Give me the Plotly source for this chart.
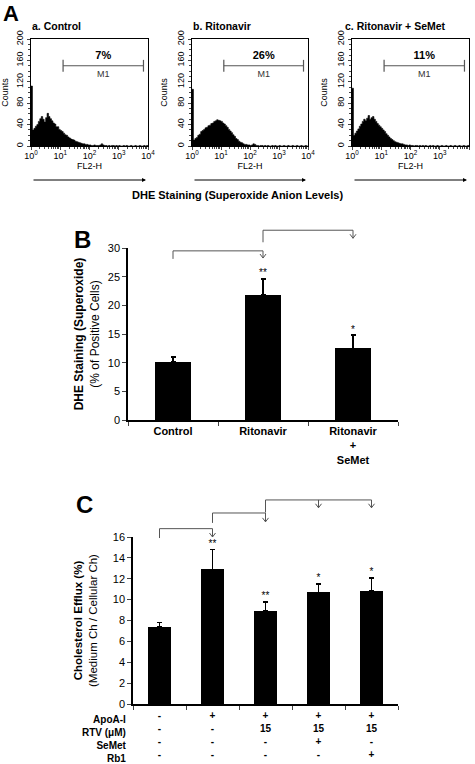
import numpy as np
import plotly.graph_objects as go

W, H = 475, 764
FONT = "Arial, Liberation Sans, sans-serif"
GRAY = "#555555"

# ---------------- Panel A data (flow cytometry histograms) ----------------
hist_titles = ["a. Control", "b. Ritonavir", "c. Ritonavir + SeMet"]
gate_pct = ["7%", "26%", "11%"]
decade_ticks = [1, 10, 100, 1000, 10000]
decade_text = ["10<sup>0</sup>", "10<sup>1</sup>", "10<sup>2</sup>", "10<sup>3</sup>", "10<sup>4</sup>"]
# counts per bin, bins of 0.05 decade from 10^0 to 10^4
control_counts = [112, 30, 33, 37, 40, 46, 51, 55, 50, 45,
                  53, 61, 55, 51, 47, 43, 41, 36, 36, 31,
                  29, 27, 24, 21, 20, 17, 15, 13, 12, 11,
                  9, 8, 7, 6, 5, 4, 4, 3, 3, 2,
                  2, 1, 1, 2, 1, 1, 1, 2, 4, 2,
                  1, 1, 0, 1, 0, 1, 1, 0, 1, 0,
                  1, 0, 0, 1, 0, 1, 0, 0, 1, 0,
                  0, 1, 0, 0, 1, 0, 0, 1, 0, 1]
ritonavir_counts = [106, 11, 14, 16, 20, 22, 27, 29, 31, 34,
                    35, 38, 39, 42, 43, 46, 47, 49, 48, 47,
                    46, 43, 41, 38, 35, 31, 28, 25, 21, 18,
                    14, 12, 9, 7, 6, 4, 3, 3, 2, 2,
                    1, 2, 4, 3, 1, 1, 0, 1, 1, 0,
                    1, 0, 1, 0, 0, 1, 0, 1, 0, 0,
                    1, 0, 0, 1, 0, 0, 1, 0, 0, 1,
                    0, 0, 1, 0, 0, 1, 0, 0, 1, 0]
semet_counts = [108, 20, 24, 28, 32, 37, 41, 46, 50, 47,
                52, 57, 50, 53, 55, 50, 46, 42, 39, 36,
                33, 30, 27, 23, 20, 17, 14, 12, 10, 8,
                7, 6, 5, 4, 4, 3, 2, 2, 1, 2,
                1, 1, 0, 1, 1, 0, 1, 0, 1, 0,
                1, 0, 0, 1, 0, 1, 0, 0, 1, 0,
                0, 1, 0, 0, 1, 0, 0, 1, 0, 0,
                1, 0, 0, 1, 0, 0, 1, 0, 0, 1]
m1_lo, m1_hi, m1_y = 12.5, 7000, 150

# ---------------- Panel B data ----------------
b_cats = ["Control", "Ritonavir", "Ritonavir<br>+<br>SeMet"]
b_means = [10.1, 21.8, 12.5]
b_errs = [0.9, 2.8, 2.3]
b_sig = ["", "**", "*"]

# ---------------- Panel C data ----------------
c_apoa = ["-", "+", "+", "+", "+"]
c_rtv = ["-", "-", "15", "15", "15"]
c_semet = ["-", "-", "-", "+", "-"]
c_rb1 = ["-", "-", "-", "-", "+"]
c_row_labels = ["ApoA-I", "RTV (\u03bcM)", "SeMet", "Rb1"]
c_means = [7.4, 12.9, 8.9, 10.7, 10.8]
c_errs = [0.4, 1.9, 0.9, 0.8, 1.3]
c_sig = ["", "**", "**", "*", "*"]


def px_x(p):
    return p / W


def px_y(p):
    return 1 - p / H


fig = go.Figure()

# ---------------- Panel A ----------------
edges = 10 ** np.linspace(0, 4, 81)
hist_px = [(31, 148), (192, 308), (352, 469)]
hist_counts = [control_counts, ritonavir_counts, semet_counts]
minor_vals = [m * 10 ** k for k in range(4) for m in range(2, 10)]
geo_center = np.sqrt(m1_lo * m1_hi)
for i, (counts, (x0, x1)) in enumerate(zip(hist_counts, hist_px)):
    n = i + 1
    xs = f"x{n}" if n > 1 else "x"
    ys = f"y{n}" if n > 1 else "y"
    fig.add_trace(go.Scatter(x=edges, y=list(counts) + [counts[-1]], mode="lines",
                             line=dict(shape="hv", color="black", width=0.6),
                             fill="tozeroy", fillcolor="black",
                             xaxis=xs, yaxis=ys, showlegend=False, hoverinfo="skip"))
    fig.add_trace(go.Scatter(x=[m1_lo, m1_hi, None, m1_lo, m1_lo, None, m1_hi, m1_hi],
                             y=[m1_y, m1_y, None, m1_y - 11, m1_y + 11, None, m1_y - 11, m1_y + 11],
                             mode="lines", line=dict(color=GRAY, width=1.2),
                             xaxis=xs, yaxis=ys, showlegend=False, hoverinfo="skip"))
    fig.add_trace(go.Scatter(x=[geo_center, geo_center], y=[m1_y + 17, m1_y - 16],
                             mode="text", text=[f"<b>{gate_pct[i]}</b>", "M1"],
                             textfont=dict(size=[11, 9], color=["black", "#333333"]),
                             xaxis=xs, yaxis=ys, showlegend=False, hoverinfo="skip",
                             cliponaxis=False))
    fig.layout[f"xaxis{n}" if n > 1 else "xaxis"] = dict(
        domain=[px_x(x0), px_x(x1)], anchor=ys, type="log", range=[0, 4],
        tickvals=decade_ticks, ticktext=decade_text, tickfont=dict(size=9),
        ticks="outside", ticklen=3, showline=True, mirror=True, linecolor="black",
        linewidth=1, showgrid=False, zeroline=False, ticklabelstandoff=-2, automargin=False,
        minor=dict(tickvals=minor_vals, ticks="outside", ticklen=2, showgrid=False),
        title=dict(text="FL2-H", font=dict(size=9), standoff=0))
    fig.layout[f"yaxis{n}" if n > 1 else "yaxis"] = dict(
        domain=[px_y(146), px_y(39)], anchor=xs, range=[0, 200], dtick=40,
        tickangle=-90, tickfont=dict(size=9), ticks="outside", ticklen=3,
        showline=True, mirror=True, linecolor="black", linewidth=1,
        showgrid=False, zeroline=False, automargin=False,
        minor=dict(dtick=10, ticks="outside", ticklen=2, showgrid=False),
        title=dict(text="Counts", font=dict(size=9), standoff=7))
    fig.add_annotation(xref="paper", yref="paper", x=px_x(x0 - 1 if i < 2 else 343),
                       y=px_y(26), text=f"<b>{hist_titles[i]}</b>", showarrow=False,
                       xanchor="left", yanchor="middle", font=dict(size=10.5))
    fig.add_annotation(xref="paper", yref="paper", x=px_x(x1 - 2), y=px_y(180),
                       ax=-(x1 - x0 - 3), ay=0, text="", showarrow=True,
                       arrowhead=2, arrowsize=0.8, arrowwidth=1, arrowcolor="black")

fig.add_annotation(xref="paper", yref="paper", x=px_x(1), y=px_y(13), text="<b>A</b>",
                   showarrow=False, xanchor="left", yanchor="middle", font=dict(size=22))
fig.add_annotation(xref="paper", yref="paper", x=px_x(237), y=px_y(195),
                   text="<b>DHE Staining (Superoxide Anion Levels)</b>", showarrow=False,
                   xanchor="center", yanchor="middle", font=dict(size=11))

# ---------------- Panel B ----------------
fig.add_trace(go.Bar(x=b_cats, y=b_means, width=0.41, marker=dict(color="black", line=dict(width=0)),
                     error_y=dict(type="data", array=b_errs, arrayminus=[0] * len(b_errs),
                                  symmetric=False, color="black", thickness=1.6, width=2.5),
                     xaxis="x4", yaxis="y4", showlegend=False))
fig.add_trace(go.Scatter(x=b_cats, y=[m + e for m, e in zip(b_means, b_errs)], mode="text",
                         text=b_sig, textposition="top center",
                         textfont=dict(size=10, color="black"),
                         xaxis="x4", yaxis="y4", showlegend=False, cliponaxis=False))
fig.layout.xaxis4 = dict(domain=[px_x(128), px_x(398)], anchor="y4", type="category",
                         tickson="boundaries", ticks="outside", ticklen=4,
                         showline=True, linecolor="black", linewidth=1.5, automargin=False,
                         tickfont=dict(size=11, weight="bold"), showgrid=False)
fig.layout.yaxis4 = dict(domain=[px_y(420), px_y(248)], anchor="x4", range=[0, 30], dtick=5,
                         ticks="outside", ticklen=4, showline=True, linecolor="black",
                         linewidth=1.5, tickfont=dict(size=11), showgrid=False, zeroline=False,
                         automargin=False,
                         title=dict(text="<b>DHE Staining (Superoxide)</b><br>(% of Positive Cells)",
                                    font=dict(size=12), standoff=6))
fig.add_annotation(xref="paper", yref="paper", x=px_x(72), y=px_y(239), text="<b>B</b>",
                   showarrow=False, xanchor="left", yanchor="middle", font=dict(size=24))


def bracket(xref, yref, ymax, x_left, y_low, y_top, tips, y_tip):
    yd = lambda v: v / ymax
    ln = dict(color=GRAY, width=1)
    kw = dict(xref=xref, yref=yref + " domain", line=ln, layer="above")
    fig.add_shape(type="line", x0=x_left, x1=x_left, y0=yd(y_low), y1=yd(y_top), **kw)
    fig.add_shape(type="line", x0=x_left, x1=max(tips), y0=yd(y_top), y1=yd(y_top), **kw)
    for t in tips:
        fig.add_shape(type="line", x0=t, x1=t, y0=yd(y_top), y1=yd(y_tip), **kw)
        for side in (-3, 3):
            fig.add_shape(type="line", xsizemode="pixel", xanchor=t, x0=side, x1=0,
                          ysizemode="pixel", yanchor=yd(y_tip), y0=4, y1=0, **kw)


bracket("x4", "y4", 30, 0, 28.1, 29.5, [1], 28.25)
bracket("x4", "y4", 30, 1, 31.0, 33.1, [2], 31.7)

# ---------------- Panel C ----------------
c_cats = ["<br>".join(r) for r in zip(c_apoa, c_rtv, c_semet, c_rb1)]
fig.add_trace(go.Bar(x=c_cats, y=c_means, width=0.43, marker=dict(color="black", line=dict(width=0)),
                     error_y=dict(type="data", array=c_errs, arrayminus=[0] * len(c_errs),
                                  symmetric=False, color="black", thickness=1.6, width=2.5),
                     xaxis="x5", yaxis="y5", showlegend=False))
fig.add_trace(go.Scatter(x=c_cats, y=[m + e for m, e in zip(c_means, c_errs)], mode="text",
                         text=c_sig, textposition="top center",
                         textfont=dict(size=10, color="black"),
                         xaxis="x5", yaxis="y5", showlegend=False, cliponaxis=False))
fig.layout.xaxis5 = dict(domain=[px_x(133), px_x(398)], anchor="y5", type="category",
                         tickson="boundaries", ticks="outside", ticklen=4,
                         showline=True, linecolor="black", linewidth=1.5,
                         tickfont=dict(size=10, weight="bold"), showgrid=False,
                         ticklabelstandoff=1, automargin=False)
fig.layout.yaxis5 = dict(domain=[px_y(704), px_y(537)], anchor="x5", range=[0, 16], dtick=2,
                         ticks="outside", ticklen=4, showline=True, linecolor="black",
                         linewidth=1.5, tickfont=dict(size=11), showgrid=False, zeroline=False,
                         automargin=False,
                         title=dict(text="<b>Cholesterol Efflux (%)</b><br>(Medium Ch / Cellular Ch)",
                                    font=dict(size=11.5), standoff=13))
fig.add_annotation(xref="paper", yref="paper", x=px_x(129), y=px_y(712),
                   text="<b>" + "<br>".join(c_row_labels) + "</b>", showarrow=False,
                   xanchor="right", yanchor="top", align="right", font=dict(size=10))
fig.add_annotation(xref="paper", yref="paper", x=px_x(74), y=px_y(504), text="<b>C</b>",
                   showarrow=False, xanchor="left", yanchor="middle", font=dict(size=24))

bracket("x5", "y5", 16, 0, 15.9, 16.8, [1], 16.0)
bracket("x5", "y5", 16, 1, 17.35, 18.3, [2], 17.45)
bracket("x5", "y5", 16, 2, 18.35, 19.55, [3, 4], 18.8)

fig.update_layout(width=W, height=H, margin=dict(l=0, r=0, t=0, b=0, autoexpand=False),
                  autosize=False, paper_bgcolor="white", plot_bgcolor="white",
                  font=dict(family=FONT, color="black"), bargap=0)
fig.write_html("out.html", config={"displayModeBar": False},
               post_script="document.body.style.margin='0px';")
